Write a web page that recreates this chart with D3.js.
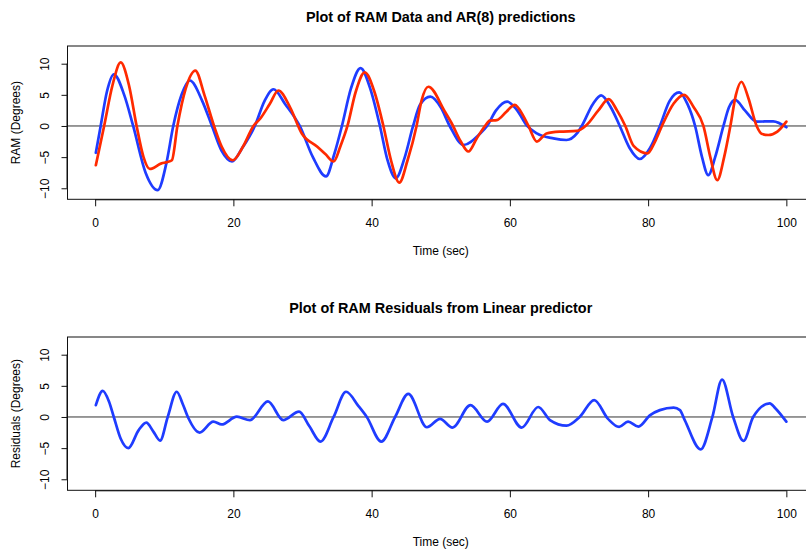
<!DOCTYPE html>
<html><head><meta charset="utf-8">
<script src="https://cdn.jsdelivr.net/npm/d3@7"></script>
<style>body{margin:0;background:#fff}text{font-family:"Liberation Sans",Arial,Helvetica,sans-serif}</style>
</head><body>
<svg id="c" width="806" height="550"></svg>
<script>
// ---- data ----
const ramTime = [0.1,0.8,1.7,2.7,4.2,5.5,7.3,9.05,10.3,11.3,12.5,13.7,15.5,16.9,18.3,19.8,21.3,23.1,24.5,25.8,27.5,29.6,31.5,33.4,34.6,35.7,37,38.4,39.8,41.2,42.3,43.5,44.8,46.0,47.0,48.5,50,51.3,53.3,55.7,56.7,58,59.6,61,62.5,63.9,66.3,68.2,69.7,70.4,72,73.2,74.6,75.9,77.3,78.8,80.3,81.7,83.1,84.5,85.7,86.8,87.8,88.7,89.7,90.9,91.7,92.6,94,95.7,98.1,100];
const ramData = [-4.3,0,5.5,8.3,5,0,-7.5,-10.3,-6,0,5,7.3,4,0,-4,-5.7,-3.5,0,4,5.9,3.5,0,-5,-8.1,-4.5,0,6,9.3,6,0,-5.5,-8.4,-5,0,3.4,4.7,3,0,-3.05,-1.2,0,2.5,3.9,2.6,0,-1.2,-2.0,-2.25,-1.2,0,3.5,4.9,3,0,-3.5,-5.3,-3.5,0,4,5.4,3.5,0,-5,-7.9,-5,0,3,4.2,2.5,0.7,0.75,-0.2];

const predTime = [0.1,1.3,2.5,3.7,4.9,6.0,7.0,7.9,9.6,10.4,11.1,11.9,13.1,14.5,15.8,17.2,18.3,19.9,21.4,22.9,23.9,25.3,26.5,28.2,29.9,32.1,33.3,34.5,35.5,36.5,37.7,39.0,40.4,41.7,42.8,44.0,45.2,46.5,47.2,48.2,50.6,51.6,52.9,54.0,55.2,56.4,57.1,58.1,59.5,60.7,62.0,62.7,63.9,65.3,67.2,69.7,71.1,72.8,74.3,75.5,76.7,77.9,79.9,81,82.0,83.7,85.2,86.6,88.0,89,90.0,91,91.9,92.7,93.5,94.5,95.7,96.5,97.4,98.7,100];
const arPred = [-6.3,0,6.5,10.2,6.5,0,-5,-6.9,-6.0,-5.8,-5.5,0,6,8.9,5,0,-3.3,-5.5,-3.3,0,1.2,3.6,5.7,3,-1.2,-3.3,-4.5,-5.7,-3.2,0,5.5,8.6,5.5,0,-5.5,-9.1,-5.5,0,4,6.3,2.3,0.4,-2.5,-4.1,-2.0,0,0.85,0.95,2.3,3.4,1.5,0,-2.5,-1.2,-0.9,-0.8,0.15,2.5,4.3,2.5,0,-3.2,-4.4,-2.5,0,3.6,5.0,3,0,-5,-8.7,-5,0,5,7.1,4.5,0,-1.3,-1.45,-0.9,0.7];

const resTime = [0.1,1.1,2.0,2.7,3.7,4.8,6.3,7.4,8.4,9.4,10.5,11.8,12.7,13.5,15.1,17.1,18.3,20.5,22.4,25.0,27.2,29.5,31,32.6,34.5,36.3,38.1,39.3,41.4,43.4,45.3,48.0,49.9,51.7,54.3,56.7,59.0,61.7,64.1,65.8,68.2,70.1,72.2,74.2,75.8,77.1,78.6,80.3,81.7,83.7,84.6,85.3,87.6,89.3,90.7,92.3,93.8,95.2,97.6,98.4,100];
const residuals = [1.9,4.2,2.5,0,-3.5,-5.0,-2.1,-0.9,-2.3,-3.8,0,4.05,2,-0.2,-2.5,-0.75,-1.2,0.05,-0.5,2.5,-0.5,0.85,-1.5,-3.95,0,4.05,1.75,0,-3.95,0,3.7,-1.65,-0.3,-1.7,1.9,-0.75,2.1,-1.7,1.6,-0.5,-1.4,0,2.7,-0.3,-1.6,-0.75,-1.55,0.3,1.1,1.5,1.1,-0.5,-5.2,0,6.0,0,-3.85,0,2.2,1.4,-0.75];

const xTicks = [0,20,40,60,80,100];
const yTicks = [-10,-5,0,5,10];

// ---- drawing ----
const svg = d3.select("#c");
const boxL = 67.5, boxR = 814;
const x = d3.scaleLinear().domain([-4,104]).range([boxL,boxR]);

function panel(top, bottom, title, ylab, seriesList) {
  const y = d3.scaleLinear().domain([-11.77,12.84]).range([bottom, top]);
  const g = svg.append("g");
  g.append("text").attr("x",(boxL+boxR)/2).attr("y",top-24).attr("text-anchor","middle")
    .attr("font-size",14.4).attr("font-weight","bold").text(title);
  g.append("line").attr("x1",boxL).attr("x2",boxR).attr("y1",y(0)).attr("y2",y(0))
    .attr("stroke","#333").attr("stroke-width",1);
  seriesList.forEach(s => {
    const data = s.t.map((t,i)=>[t,s.v[i]]);
    g.append("path").datum(data)
      .attr("d", d3.line().x(d=>x(d[0])).y(d=>y(d[1])).curve(d3.curveMonotoneX))
      .attr("fill","none").attr("stroke",s.color).attr("stroke-width",2.7)
      .attr("stroke-linejoin","round").attr("stroke-linecap","round");
  });
  g.append("rect").attr("x",boxL).attr("y",top).attr("width",boxR-boxL).attr("height",bottom-top)
    .attr("fill","none").attr("stroke","#111").attr("stroke-width",1);
  const xa = g.append("g").attr("transform",`translate(0,${bottom})`)
    .call(d3.axisBottom(x).tickValues(xTicks).tickSize(7).tickSizeOuter(0).tickPadding(12));
  xa.select(".domain").attr("d",`M${x(0)},0.5H${x(100)}`).attr("stroke","#111");
  xa.selectAll("line").attr("stroke","#111");
  xa.selectAll("text").attr("font-size",12).attr("font-family","Liberation Sans, Arial, sans-serif").attr("fill","#000");
  const ya = g.append("g").attr("transform",`translate(${boxL},0)`)
    .call(d3.axisLeft(y).tickValues(yTicks).tickSize(6).tickSizeOuter(0).tickFormat(d=>d<0?"\u2212"+(-d):d));
  ya.select(".domain").attr("d",`M-0.5,${y(-10)}V${y(10)}`).attr("stroke","#111");
  ya.selectAll("line").attr("stroke","#111");
  ya.selectAll(".tick text").attr("font-size",12).attr("font-family","Liberation Sans, Arial, sans-serif").attr("fill","#000")
    .attr("text-anchor","middle").attr("x",0).attr("dy",0)
    .attr("transform","translate(-22,0) rotate(-90)")
    .attr("dominant-baseline","middle");
  g.append("text").attr("x",(boxL+boxR)/2).attr("y",bottom+56).attr("text-anchor","middle")
    .attr("font-size",12).text("Time (sec)");
  g.append("text").attr("transform",`translate(20,${(top+bottom)/2}) rotate(-90)`)
    .attr("text-anchor","middle").attr("font-size",12).text(ylab);
}

panel(46, 199.3, "Plot of RAM Data and AR(8) predictions", "RAM (Degrees)",
  [{t:ramTime, v:ramData, color:"#1f3cff"},{t:predTime, v:arPred, color:"#ff2a00"}]);
panel(337, 490.3, "Plot of RAM Residuals from Linear predictor", "Residuals (Degrees)",
  [{t:resTime, v:residuals, color:"#1f3cff"}]);
</script>
</body></html>
